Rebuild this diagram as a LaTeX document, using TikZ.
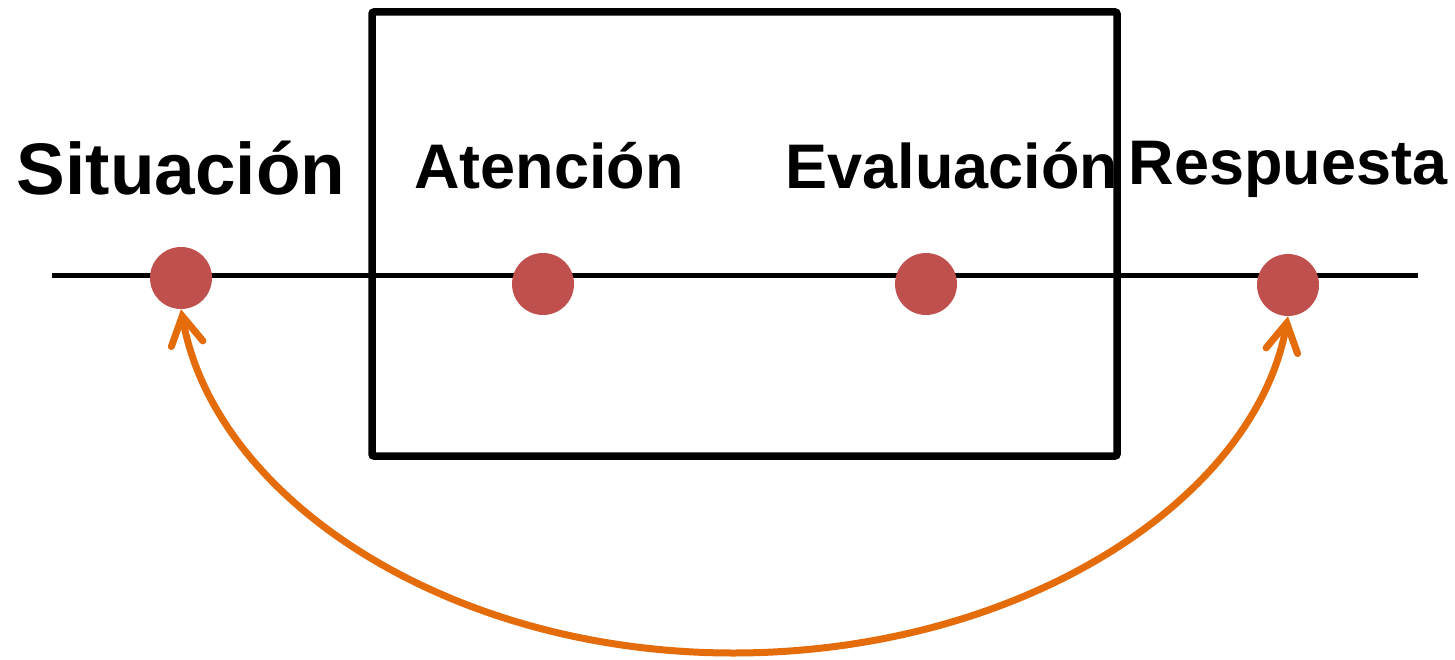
\documentclass[tikz,border=0pt]{standalone}
\usepackage{fontspec}
\setmainfont{Liberation Sans}
\usetikzlibrary{arrows.meta}
\definecolor{dotred}{HTML}{C0504D}
\definecolor{arrorange}{HTML}{E46C0A}
\begin{document}
\begin{tikzpicture}[x=1pt,y=-1pt,
  dot/.style={circle,fill=dotred,minimum size=62pt,inner sep=0pt},
  biglabel/.style={font=\bfseries\fontsize{73}{80}\selectfont,anchor=base,inner sep=0pt},
  label/.style={font=\bfseries\fontsize{63}{70}\selectfont,anchor=base,inner sep=0pt},
  conn/.style={draw=arrorange,line width=7pt,{Straight Barb[length=28pt,width=32pt,line width=7pt,line cap=round]}-{Straight Barb[length=28pt,width=32pt,line width=7pt,line cap=round]}}]
\useasboundingbox (0,0) rectangle (1455,660);
\draw[line width=5pt] (52,275) coordinate (l) -- (1418,275) coordinate (r);
\draw[line width=7.5pt,rounded corners=2pt] (372,12) rectangle (1117,456);
\node[dot] (s) at (181,278) {};
\node[dot] (a) at (543,284) {};
\node[dot] (e) at (926,284) {};
\node[dot] (p) at (1288,285) {};
\node[biglabel] (ls) at (181,195) {Situación};
\node[label] (la) at (549,189) {Atención};
\node[label] (le) at (952,189) {Evaluación};
\node[label] (lp) at (1288,185) {Respuesta};
\coordinate (bot) at (733,653);
\draw[conn] (s.south) .. controls (215,500) and (450,653) .. (bot)
  .. controls (1020,653) and (1255,500) .. (p.south);
\end{tikzpicture}
\end{document}
